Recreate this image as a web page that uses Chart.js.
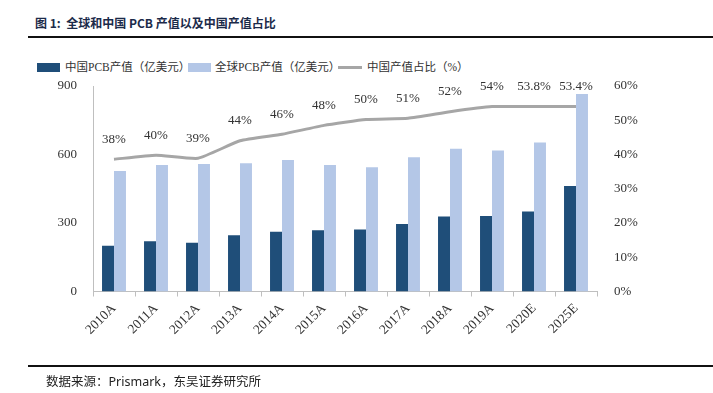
<!DOCTYPE html>
<html lang="zh">
<head>
    <meta charset="UTF-8">
    <script src="https://cdn.jsdelivr.net/npm/chart.js"></script>
    <style>
        body { margin: 0; background: #fff; }
        .wrap { position: absolute; left: 0; top: 0; width: 713px; height: 393px; }
        .title { position: absolute; left: 35px; top: 14px; font: bold 12px "Noto Sans CJK SC", sans-serif; color: #1c2b4a; white-space: nowrap; }
        .rule-top { position: absolute; left: 28px; right: 0; top: 36px; height: 2px; background: #111; }
        .rule-bottom { position: absolute; left: 28px; right: 0; top: 365px; height: 2px; background: #111; }
        .source { position: absolute; left: 46px; top: 371px; font: 12.5px "Noto Sans", "Noto Sans CJK SC", sans-serif; color: #222; white-space: nowrap; }
        .legend { position: absolute; top: 58px; left: 0; font: 11.5px "Liberation Serif", "Noto Sans CJK SC", serif; color: #333; }
        .legend span { position: absolute; white-space: nowrap; }
        .sw { position: absolute; }
    </style>
    <title>全球和中国PCB产值</title>
</head>
<body>
<div class="title">图 1:&nbsp; 全球和中国 PCB 产值以及中国产值占比</div>
<div class="rule-top"></div>

<div class="legend">
    <div class="sw" style="left:37px; top:5px; width:23px; height:9px; background:#1f4e79;"></div>
    <span style="left:65px; top:0;">中国PCB产值（亿美元）</span>
    <div class="sw" style="left:188px; top:5px; width:23px; height:9px; background:#b4c7e7;"></div>
    <span style="left:215px; top:0;">全球PCB产值（亿美元）</span>
    <div class="sw" style="left:338px; top:8px; width:24px; height:3px; background:#a6a6a6;"></div>
    <span style="left:367px; top:0;">中国产值占比（%）</span>
</div>

<div class="wrap">
    <canvas id="pcbChart"></canvas>
</div>

<div class="rule-bottom"></div>
<div class="source">数据来源：Prismark，东吴证券研究所</div>

<script>
    // 数据（亿美元 / %）
    const years = ['2010A', '2011A', '2012A', '2013A', '2014A', '2015A', '2016A', '2017A', '2018A', '2019A', '2020E', '2025E'];
    const chinaPcb = [200, 220, 214, 246, 262, 268, 272, 296, 328, 331, 350, 462];
    const globalPcb = [528, 554, 558, 562, 576, 554, 544, 588, 625, 617, 653, 865];
    const chinaShare = [38.6, 39.8, 38.9, 44.0, 45.9, 48.5, 50.2, 50.6, 52.5, 54.0, 54.0, 54.0];
    const shareLabels = ['38%', '40%', '39%', '44%', '46%', '48%', '50%', '51%', '52%', '54%', '53.8%', '53.4%'];
    const leftTicks = [0, 300, 600, 900];
    const rightTicks = [0, 10, 20, 30, 40, 50, 60];

    const serif = '"Liberation Serif", "Times New Roman", serif';

    // 折线上方的数值标签
    const shareLabelPlugin = {
        id: 'shareLabels',
        afterDatasetsDraw(chart) {
            const meta = chart.getDatasetMeta(2);
            const ctx = chart.ctx;
            ctx.save();
            ctx.font = '13px ' + serif;
            ctx.fillStyle = '#333';
            ctx.textAlign = 'center';
            ctx.textBaseline = 'middle';
            meta.data.forEach((pt, i) => {
                ctx.fillText(shareLabels[i], pt.x, pt.y - 20);
            });
            ctx.restore();
        }
    };

    const ctx = document.getElementById('pcbChart').getContext('2d');
    new Chart(ctx, {
        type: 'bar',
        data: {
            labels: years,
            datasets: [
                {
                    label: '中国PCB产值（亿美元）',
                    data: chinaPcb,
                    backgroundColor: '#1f4e79',
                    yAxisID: 'y',
                    order: 1
                },
                {
                    label: '全球PCB产值（亿美元）',
                    data: globalPcb,
                    backgroundColor: '#b4c7e7',
                    yAxisID: 'y',
                    order: 1
                },
                {
                    type: 'line',
                    label: '中国产值占比（%）',
                    data: chinaShare,
                    borderColor: '#a6a6a6',
                    borderWidth: 3,
                    pointRadius: 0,
                    tension: 0.15,
                    yAxisID: 'y1',
                    order: 0
                }
            ]
        },
        options: {
            responsive: true,
            maintainAspectRatio: false,
            animation: false,
            datasets: {
                bar: { categoryPercentage: 0.57, barPercentage: 1.0 }
            },
            layout: { padding: { top: 86, left: 0, right: 0, bottom: 0 } },
            plugins: {
                legend: { display: false },
                tooltip: { enabled: false }
            },
            scales: {
                x: {
                    grid: { display: true, drawOnChartArea: false, tickLength: 5, color: '#bfbfbf' },
                    border: { color: '#bfbfbf' },
                    ticks: {
                        minRotation: 45, maxRotation: 45, padding: 4,
                        color: '#333', font: { family: serif, size: 13.5 }
                    },
                    afterFit(scale) { scale.height = 101.5; }
                },
                y: {
                    position: 'left',
                    min: 0, max: 900,
                    afterBuildTicks(scale) { scale.ticks = leftTicks.map(v => ({ value: v })); },
                    grid: { display: false },
                    border: { color: '#bfbfbf' },
                    ticks: { padding: 8, color: '#333', font: { family: serif, size: 13 } },
                    afterFit(scale) { scale.width = 93; }
                },
                y1: {
                    position: 'right',
                    min: 0, max: 60,
                    afterBuildTicks(scale) { scale.ticks = rightTicks.map(v => ({ value: v })); },
                    grid: { display: false },
                    border: { display: false },
                    ticks: {
                        padding: 9, color: '#333', font: { family: serif, size: 13 },
                        callback: v => v + '%'
                    },
                    afterFit(scale) { scale.width = 116; }
                }
            }
        },
        plugins: [shareLabelPlugin]
    });
</script>
</body>
</html>
